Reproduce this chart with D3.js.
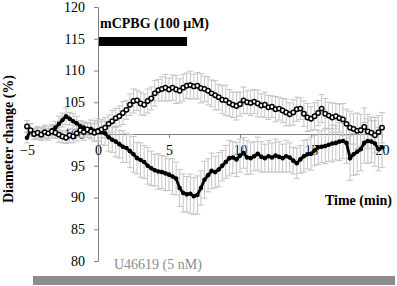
<!DOCTYPE html>
<html><head><meta charset="utf-8">
<script src="https://cdn.jsdelivr.net/npm/d3@7"></script>
<style>body{margin:0;background:#fff}svg{display:block}</style>
</head><body>
<svg id="c" width="397" height="286"></svg>
<script>
// time points: -5 .. 20 min, every 0.25 min
const times = d3.range(-5, 20.001, 0.25);
const seriesA = [101.2,100.6,100.0,100.2,99.9,100.3,100.1,100.4,100.2,99.9,99.6,99.4,99.8,99.6,100.1,100.6,100.3,100.7,100.4,100.2,
100.4,100.7,101.0,101.6,102.0,102.5,102.8,103.3,103.8,104.6,105.2,105.3,104.8,104.6,105.2,105.6,106.4,106.9,107.1,107.3,
107.0,107.3,107.0,106.8,107.3,107.6,107.7,107.5,107.6,107.2,107.1,106.8,106.4,106.1,105.8,105.4,105.3,104.9,104.6,104.4,
104.7,105.3,105.0,104.9,105.1,104.8,104.5,104.6,104.2,104.3,103.9,104.0,103.7,103.4,103.1,103.4,103.9,104.0,103.2,102.6,
102.4,102.8,103.3,104.0,103.2,102.9,102.6,102.8,102.5,102.3,101.6,101.0,100.8,100.5,100.6,101.1,100.4,100.2,99.8,100.3,101.0];
const errA = [0.9,1.0,0.8,1.0,0.9,1.1,0.8,1.0,0.9,1.2,1.0,0.9,1.1,1.0,1.2,1.1,1.3,1.0,1.2,1.4,
1.5,1.3,1.6,1.4,1.7,1.5,1.6,1.8,1.5,1.7,1.9,1.6,1.8,1.7,1.9,1.8,2.0,1.7,1.9,2.1,
1.8,2.0,2.2,1.9,2.1,2.0,2.2,1.9,2.1,2.3,2.0,2.2,2.1,2.3,2.0,2.2,2.4,2.1,2.0,2.2,
1.9,2.1,1.8,2.0,1.9,2.1,1.8,2.0,1.9,1.7,2.0,1.8,1.9,2.1,1.8,2.0,1.9,1.7,2.0,2.2,
1.9,2.1,2.0,2.2,2.4,2.1,2.3,2.0,2.2,2.5,2.3,2.6,2.4,2.8,2.5,3.0,2.7,2.5,2.8,2.6,2.4];
const seriesB = [99.4,100.6,100.0,100.2,100.0,100.3,100.1,100.6,101.0,101.6,102.2,102.8,102.4,102.0,101.7,101.2,101.0,100.6,100.8,100.5,
100.6,100.3,100.1,99.5,99.1,98.8,98.4,98.0,97.8,97.3,96.8,96.2,95.9,95.6,95.0,94.6,94.3,94.1,94.0,93.8,
93.6,93.3,93.0,91.5,90.7,90.5,90.6,90.2,90.4,91.5,92.8,93.5,94.2,94.0,94.4,95.0,95.6,96.2,96.3,96.0,
96.6,97.0,96.3,96.2,96.5,96.9,96.4,96.2,96.5,96.3,96.6,96.4,96.2,96.5,96.3,95.8,95.4,96.0,96.5,96.8,
96.9,97.4,97.9,98.0,98.1,98.3,98.5,98.6,98.8,98.9,98.6,96.2,96.8,97.2,97.6,98.6,98.9,98.8,98.5,97.6,97.9];
const errB = [0.8,1.0,0.9,0.8,1.0,0.9,1.1,0.9,1.0,1.2,1.1,1.3,1.0,1.2,1.1,0.9,1.0,1.2,1.4,1.6,
1.8,2.0,1.9,2.2,2.0,2.4,2.2,2.5,2.3,2.6,2.8,2.5,2.7,2.6,2.9,2.7,2.5,2.8,2.6,2.7,
2.5,2.8,2.6,2.9,3.0,2.8,3.1,2.9,3.0,2.7,2.9,2.6,2.8,2.5,2.7,2.4,2.6,2.8,2.5,2.7,
2.6,2.4,2.7,2.5,2.3,2.6,2.4,2.2,2.5,2.3,2.6,2.4,2.2,2.5,2.3,2.1,2.4,2.2,2.5,2.3,
2.6,2.4,2.7,2.5,2.8,2.6,2.9,2.7,3.0,2.8,3.2,3.5,3.3,3.6,3.4,3.2,3.5,3.3,3.6,3.4,3.2];
const xTicks = [-5, 0, 5, 10, 15, 20];
const yTicks = [80, 85, 90, 95, 100, 105, 110, 115, 120];
const drugBar = [0, 6.2];       // mCPBG application (min)
const drugLabel = "mCPBG (100 μM)";
const bgLabel = "U46619 (5 nM)";

const svg = d3.select("#c");
const x = d3.scaleLinear().domain([-5, 20]).range([27, 382]);
const y = d3.scaleLinear().domain([80, 120]).range([261, 7]);
const serif = "'Liberation Serif','Times New Roman',serif";

// y axis
const yAx = svg.append("g").attr("transform", `translate(${x(0)},0)`)
  .call(d3.axisLeft(y).tickValues(yTicks).tickSize(4).tickPadding(9));
yAx.select(".domain").attr("stroke", "#808080");
yAx.selectAll(".tick line").attr("stroke", "#808080");
yAx.selectAll(".tick text").attr("font-family", serif).attr("font-size", 14).attr("fill", "#000");

// x axis at y=100
const xAx = svg.append("g").attr("transform", `translate(0,${y(100)})`)
  .call(d3.axisBottom(x).tickValues(xTicks).tickSize(4).tickSizeOuter(0).tickPadding(7));
xAx.select(".domain").attr("stroke", "#808080");
xAx.selectAll(".tick line").attr("stroke", "#808080");
xAx.selectAll(".tick text").attr("font-family", serif).attr("font-size", 14).attr("fill", "#000");

// error bars
function errBars(vals, errs) {
  const g = svg.append("g").attr("stroke", "#c4c4c4").attr("stroke-width", 1).attr("fill", "none");
  times.forEach((t, i) => {
    const cx = x(t), y1 = y(vals[i] + errs[i]), y2 = y(vals[i] - errs[i]);
    g.append("line").attr("x1", cx).attr("x2", cx).attr("y1", y1).attr("y2", y2);
    g.append("line").attr("x1", cx - 3).attr("x2", cx + 3).attr("y1", y1).attr("y2", y1);
    g.append("line").attr("x1", cx - 3).attr("x2", cx + 3).attr("y1", y2).attr("y2", y2);
  });
}
errBars(seriesA, errA);
errBars(seriesB, errB);

const line = d3.line().x((d, i) => x(times[i])).y(d => y(d));
// series B (filled)
svg.append("path").datum(seriesB).attr("d", line).attr("fill", "none").attr("stroke", "#000").attr("stroke-width", 2.8);
svg.append("g").selectAll("circle").data(seriesB).join("circle")
  .attr("cx", (d, i) => x(times[i])).attr("cy", d => y(d)).attr("r", 2.3).attr("fill", "#000");
// series A (open)
svg.append("path").datum(seriesA).attr("d", line).attr("fill", "none").attr("stroke", "#000").attr("stroke-width", 1.2);
svg.append("g").selectAll("circle").data(seriesA).join("circle")
  .attr("cx", (d, i) => x(times[i])).attr("cy", d => y(d)).attr("r", 2.2)
  .attr("fill", "#fff").attr("stroke", "#000").attr("stroke-width", 1.5);

// drug bar
svg.append("rect").attr("x", x(drugBar[0]) + 1).attr("y", 37)
  .attr("width", x(drugBar[1]) - x(drugBar[0])).attr("height", 9).attr("fill", "#000");
svg.append("text").attr("x", 100).attr("y", 28).text(drugLabel)
  .attr("font-family", serif).attr("font-size", 14).attr("font-weight", "bold");

// background bar
svg.append("rect").attr("x", 33).attr("y", 276).attr("width", 362).attr("height", 9).attr("fill", "#8c8c8c");
svg.append("text").attr("x", 114).attr("y", 269).text(bgLabel)
  .attr("font-family", serif).attr("font-size", 14).attr("fill", "#8c8c8c");

// axis titles
svg.append("text").attr("x", 392).attr("y", 205).attr("text-anchor", "end").text("Time (min)")
  .attr("font-family", serif).attr("font-size", 14).attr("font-weight", "bold");
svg.append("text").attr("transform", "translate(13,139) rotate(-90)").attr("text-anchor", "middle")
  .text("Diameter change (%)").attr("font-family", serif).attr("font-size", 14).attr("font-weight", "bold");
</script>
</body></html>
